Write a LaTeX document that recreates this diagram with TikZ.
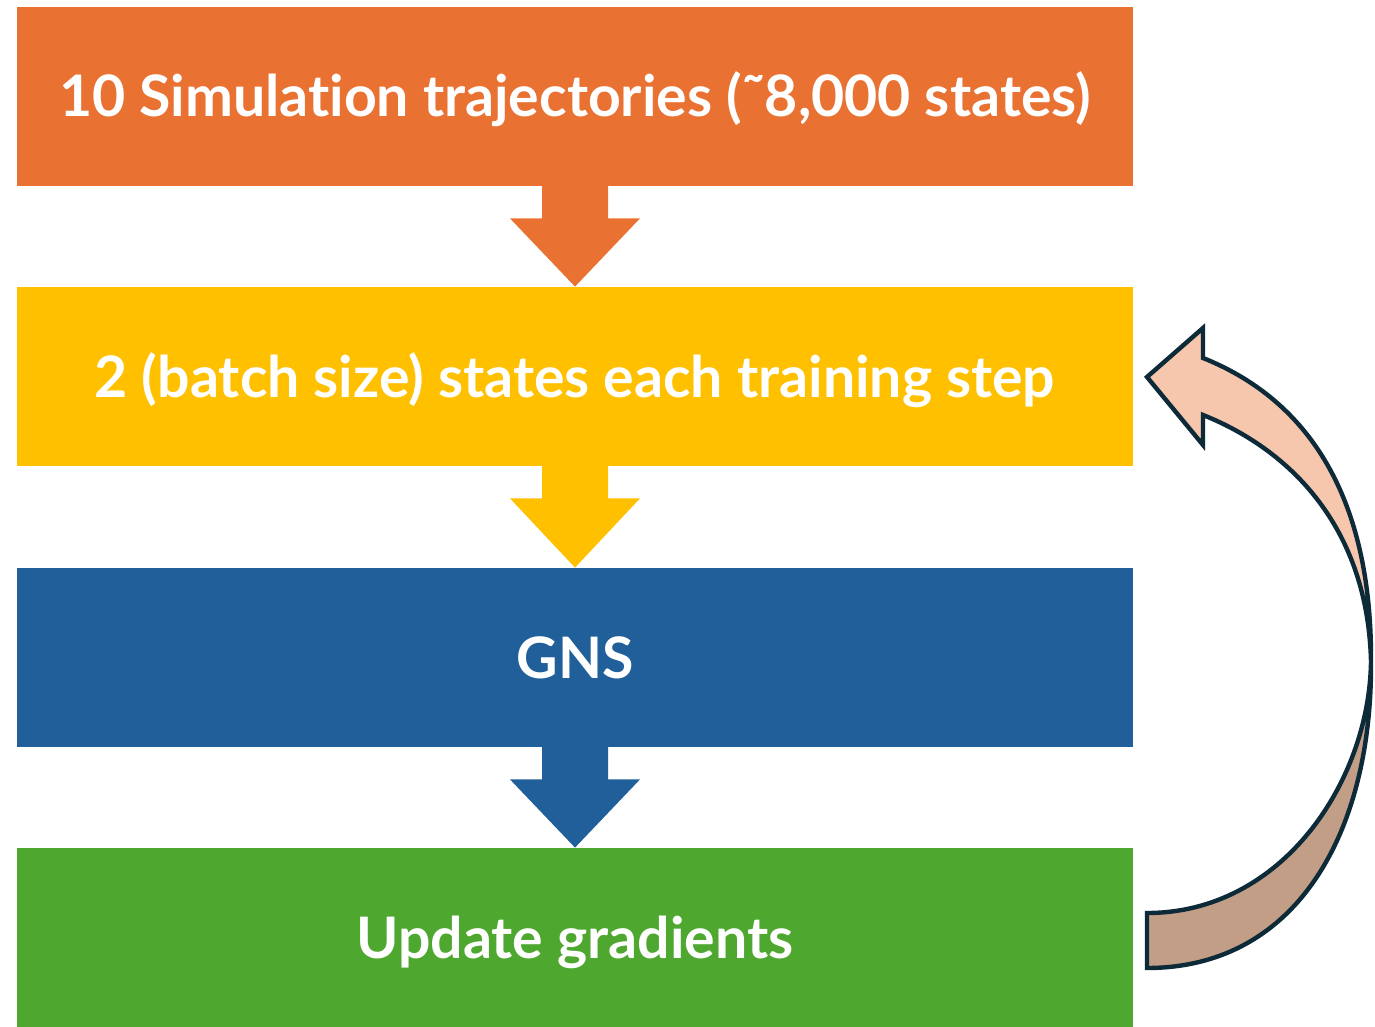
\documentclass[tikz,border=0pt]{standalone}
\usepackage{fontspec}
\setmainfont{Lato}[Ligatures={NoCommon}]
\usetikzlibrary{calc}
\definecolor{corange}{HTML}{E97132}
\definecolor{cyellow}{HTML}{FFC000}
\definecolor{cblue}{HTML}{215F9A}
\definecolor{cgreen}{HTML}{4EA72E}
\definecolor{cpeach}{HTML}{F6C6AD}
\definecolor{cpeachdark}{HTML}{C39E87}
\definecolor{coutline}{HTML}{0D2A38}
\begin{document}
\begin{tikzpicture}[x=0.5pt,y=-0.5pt,
  stagebox/.style={minimum width=558pt,minimum height=89.5pt,inner sep=0pt,
    text height=20.5pt,text depth=0pt,
    text=white,font=\fontsize{28.6}{32}\selectfont\bfseries},
  curvedpart/.style={draw=coutline,line width=2.2pt,line join=miter}]
\useasboundingbox (0,0) rectangle (1375,1027);
\node[stagebox,fill=corange] (b1) at (575,96.5) {10 Simulation trajectories (˜8,000 states)};
\node[stagebox,fill=cyellow] (b2) at (575,376.5) {2 (batch size) states each training step};
\node[stagebox,fill=cblue] (b3) at (575,657.5) {GNS};
\node[stagebox,fill=cgreen] (b4) at (575,937.5) {Update gradients};
% down arrows
\foreach \a/\b/\c in {b1/b2/corange,b2/b3/cyellow,b3/b4/cblue}{
  \fill[\c] ($(\a.south)+(-33,-1)$) -- ($(\a.south)+(-33,32)$) -- ($(\a.south)+(-65,32)$)
    -- (\b.north) -- ($(\a.south)+(65,32)$) -- ($(\a.south)+(33,32)$) -- ($(\a.south)+(33,-1)$) -- cycle;
}
% curved feedback arrow
\coordinate (cross) at (1371,662);
\draw[curvedpart,fill=cpeachdark] (cross) .. controls (1372,832) and (1297,968) .. (1147,968)
  -- (1147,913) .. controls (1282,913) and (1369,782) .. (cross) -- cycle;
\draw[curvedpart,fill=cpeach] (1203,358) .. controls (1303,398) and (1372,490) .. (cross)
  .. controls (1368,530) and (1293,451) .. (1203,415) -- (1203,445) -- (1147,377) -- (1203,328) -- cycle;
\end{tikzpicture}
\end{document}
